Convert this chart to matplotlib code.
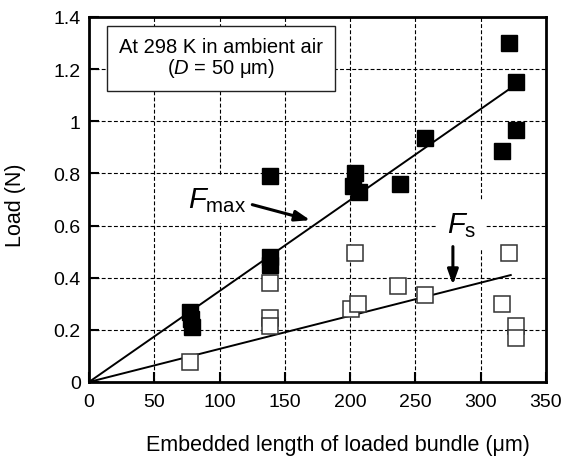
import matplotlib
matplotlib.use("Agg")
import numpy as np
import matplotlib.pyplot as plt

plt.rcParams["font.family"] = ["Liberation Sans", "DejaVu Sans"]
plt.rcParams["mathtext.fontset"] = "custom"
plt.rcParams["mathtext.rm"] = "Liberation Sans"
plt.rcParams["mathtext.it"] = "Liberation Sans:italic"

# F_max (filled squares)
fmax_x = [77, 78, 79, 139, 139, 139, 204, 202, 207, 238, 257, 316, 327, 327, 322]
fmax_y = [0.27, 0.24, 0.21, 0.79, 0.48, 0.45, 0.80, 0.75, 0.73, 0.76, 0.935, 0.885, 0.965, 1.15, 1.30]

# F_s (open squares)
fs_x = [77, 139, 139, 139, 204, 201, 206, 237, 257, 316, 322, 327, 327]
fs_y = [0.075, 0.38, 0.245, 0.215, 0.495, 0.28, 0.30, 0.37, 0.335, 0.30, 0.495, 0.215, 0.17]

# linear fits through the origin
fmax_slope = 0.00349
fs_slope = 0.00127
fit_x = [0, 323]

fig = plt.figure(figsize=(5.65, 4.64), dpi=100)
ax = fig.add_axes([89 / 565, 81 / 464, 457 / 565, 365 / 464])

grid_kw = dict(color="black", lw=0.8, linestyle=(0, (3.5, 2)), zorder=0)
for gx in [50, 100, 150, 200, 250, 300]:
    ax.axvline(gx, **grid_kw)
for gy in [0.2, 0.4, 0.6, 0.8, 1.0, 1.2]:
    ax.axhline(gy, **grid_kw)

fx = np.array(fit_x)
ax.plot(fx, fmax_slope * fx, color="black", lw=1.4, zorder=2)
ax.plot(fx, fs_slope * fx, color="black", lw=1.4, zorder=2)

ax.plot(fmax_x, fmax_y, "s", color="black", ms=11.5, zorder=3)
ax.plot(fs_x, fs_y, "s", mfc="white", mec="#333333", mew=1.1, ms=11.5, zorder=3)

ax.set_xlim(0, 350)
ax.set_ylim(0, 1.4)
ax.set_xticks([0, 50, 100, 150, 200, 250, 300, 350])
ax.set_yticks([0, 0.2, 0.4, 0.6, 0.8, 1.0, 1.2, 1.4])
ax.set_yticklabels(["0", "0.2", "0.4", "0.6", "0.8", "1", "1.2", "1.4"])
ax.tick_params(direction="in", length=7, width=1.5, labelsize=14)
ax.tick_params(axis="x", pad=8)
ax.tick_params(axis="y", pad=6)
for s in ax.spines.values():
    s.set_linewidth(2)

ax.text(100.8, 1.243, "At 298 K in ambient air\n($\\mathit{D}$ = 50 \u03bcm)", ha="center", va="center",
        fontsize=14.5, linespacing=1.05, zorder=5,
        bbox=dict(fc="white", ec="#222222", lw=1, boxstyle="square,pad=0.6"))

white_box = dict(fc="white", ec="none", pad=7)
ax.text(76, 0.671, "$\\mathit{F}_{\\mathrm{max}}$", fontsize=21, ha="left", va="baseline",
        bbox=white_box, zorder=4)
ax.text(274, 0.575, "$\\mathit{F}_{\\mathrm{s}}$", fontsize=21, ha="left", va="baseline",
        bbox=white_box, zorder=4)

arrow_kw = dict(arrowstyle="-|>,head_length=0.9,head_width=0.32", color="black", lw=2.2)
ax.annotate("", xy=(171.5, 0.618), xytext=(123, 0.683), arrowprops=arrow_kw, zorder=4)
ax.annotate("", xy=(278.7, 0.362), xytext=(278.7, 0.53), arrowprops=arrow_kw, zorder=4)

fig.text(338 / 565, 18 / 464, "Embedded length of loaded bundle (\u03bcm)", ha="center", va="center", fontsize=15.5)
fig.text(15 / 565, 259 / 464, "Load (N)", ha="center", va="center", rotation=90, fontsize=15.5)

fig.savefig("out.png", dpi=100)
